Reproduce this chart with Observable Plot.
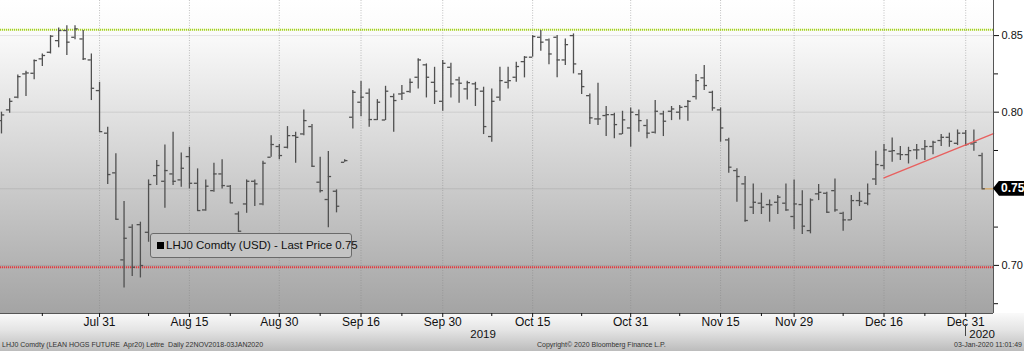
<!DOCTYPE html>
<html><head><meta charset="utf-8">
<script src="https://cdn.jsdelivr.net/npm/d3@7"></script>
<script src="https://cdn.jsdelivr.net/npm/@observablehq/plot@0.6"></script>
<style>
body{margin:0;background:#fff;}
#wrap{position:relative;width:1024px;height:351px;overflow:hidden;font-family:"Liberation Sans",Arial,sans-serif;}
#wrap svg{display:block;}
.legend{position:absolute;left:150px;top:233px;width:194px;height:23px;background:#c4c4c4;border:1px solid #6a6a6a;border-radius:3px;font-size:11.5px;line-height:23px;color:#111;padding-left:6px;white-space:nowrap;}
.legend .sq{display:inline-block;width:7px;height:7px;background:#000;margin-right:2px;}
.foot{position:absolute;top:341px;font-size:7px;color:#333;white-space:pre;}
.badge{position:absolute;height:15px;background:#000;color:#fff;font-weight:bold;font-size:12px;line-height:15px;padding-left:8px;box-sizing:border-box;clip-path:polygon(0 50%,6px 0,100% 0,100% 100%,6px 100%);}
.sep{position:absolute;width:1px;background:#444;}
</style></head>
<body><div id="wrap"></div>
<script>
// ---- data (LHJ0 Comdty daily OHLC, from 15 Jul 2019 to 3 Jan 2020) ----
const open = [0.7945,0.8015,0.8098,0.8250,0.8254,0.8348,0.8391,0.8467,0.8533,0.8489,
0.8478,0.8341,0.8141,0.7863,0.7604,0.7036,0.7249,0.7266,0.7216,0.7586,
0.7549,0.7597,0.7558,0.7710,0.7536,0.7362,0.7488,0.7597,0.7517,0.7336,
0.7401,0.7549,0.7401,0.7706,0.7776,0.7771,0.7847,0.7858,0.7906,0.7543,
0.7430,0.7484,0.7673,0.7967,0.8065,0.8124,0.7952,0.7949,0.8102,0.8119,
0.8135,0.8228,0.8309,0.8195,0.8071,0.8293,0.8211,0.8152,0.8185,0.8137,
0.7841,0.8098,0.8195,0.8228,0.8330,0.8359,0.8489,0.8472,0.8489,0.8341,
0.8500,0.8250,0.8108,0.7956,0.7978,0.7984,0.7858,0.7897,0.7984,0.7913,
0.7869,0.7989,0.8006,0.8000,0.8037,0.8102,0.8224,0.8130,0.8015,0.7819,
0.7619,0.7532,0.7380,0.7406,0.7397,0.7412,0.7406,0.7319,0.7397,0.7227,
0.7467,0.7471,0.7488,0.7340,0.7297,0.7423,0.7406,0.7564,0.7652,0.7745,
0.7728,0.7723,0.7754,0.7760,0.7776,0.7815,0.7836,0.7797,0.7863,0.7793,
0.7717];
const high = [0.8000,0.8087,0.8243,0.8267,0.8341,0.8380,0.8500,0.8550,0.8565,0.8565,
0.8533,0.8380,0.8195,0.7902,0.7728,0.7417,0.7266,0.7282,0.7558,0.7684,
0.7786,0.7869,0.7734,0.7771,0.7630,0.7558,0.7667,0.7689,0.7521,0.7349,
0.7558,0.7558,0.7680,0.7847,0.7789,0.7906,0.7869,0.8015,0.7919,0.7706,
0.7743,0.7493,0.7689,0.8141,0.8200,0.8152,0.8082,0.8169,0.8119,0.8174,
0.8217,0.8348,0.8315,0.8293,0.8337,0.8319,0.8228,0.8202,0.8195,0.8163,
0.8152,0.8293,0.8293,0.8326,0.8363,0.8500,0.8533,0.8478,0.8500,0.8478,
0.8511,0.8272,0.8119,0.8189,0.8037,0.7993,0.8006,0.8028,0.8015,0.7950,
0.8076,0.8006,0.8037,0.8043,0.8076,0.8246,0.8304,0.8137,0.8028,0.7830,
0.7630,0.7580,0.7532,0.7471,0.7427,0.7456,0.7532,0.7558,0.7488,0.7434,
0.7528,0.7477,0.7564,0.7347,0.7456,0.7477,0.7532,0.7745,0.7789,0.7832,
0.7776,0.7771,0.7789,0.7815,0.7810,0.7854,0.7863,0.7884,0.7880,0.7884,
0.7732];
const low = [0.7858,0.7993,0.8087,0.8102,0.8211,0.8298,0.8380,0.8420,0.8370,0.8472,
0.8337,0.8076,0.7869,0.7528,0.7297,0.6853,0.6927,0.6918,0.7151,0.7521,
0.7373,0.7521,0.7510,0.7499,0.7353,0.7353,0.7477,0.7499,0.7406,0.7216,
0.7340,0.7384,0.7390,0.7706,0.7689,0.7760,0.7667,0.7847,0.7641,0.7473,
0.7245,0.7343,0.7673,0.7891,0.7971,0.7902,0.7945,0.7945,0.7869,0.8076,
0.8124,0.8152,0.8093,0.8050,0.8006,0.8093,0.8058,0.8080,0.8037,0.7854,
0.7804,0.8071,0.8152,0.8195,0.8224,0.8359,0.8398,0.8309,0.8224,0.8304,
0.8250,0.8115,0.7919,0.7913,0.7841,0.7826,0.7854,0.7771,0.7869,0.7826,
0.7858,0.7841,0.7945,0.7949,0.7941,0.8080,0.8141,0.8006,0.7804,0.7601,
0.7412,0.7282,0.7332,0.7332,0.7282,0.7332,0.7353,0.7232,0.7201,0.7206,
0.7423,0.7340,0.7347,0.7223,0.7293,0.7384,0.7390,0.7521,0.7623,0.7673,
0.7684,0.7662,0.7689,0.7684,0.7723,0.7776,0.7771,0.7782,0.7776,0.7745,
0.7500];
const close = [0.7982,0.8071,0.8232,0.8256,0.8337,0.8370,0.8496,0.8533,0.8457,0.8544,
0.8348,0.8156,0.7873,0.7593,0.7301,0.7177,0.6988,0.6999,0.7528,0.7652,
0.7619,0.7549,0.7634,0.7536,0.7358,0.7517,0.7597,0.7521,0.7408,0.7223,
0.7549,0.7532,0.7667,0.7789,0.7717,0.7847,0.7836,0.7945,0.7647,0.7488,
0.7580,0.7386,0.7684,0.8130,0.8098,0.7952,0.8065,0.8137,0.8076,0.8124,
0.8195,0.8341,0.8228,0.8137,0.8319,0.8185,0.8189,0.8193,0.8152,0.7906,
0.8071,0.8206,0.8206,0.8298,0.8359,0.8494,0.8457,0.8380,0.8341,0.8441,
0.8315,0.8167,0.7963,0.7956,0.7984,0.7919,0.7950,0.8000,0.7945,0.7863,
0.8006,0.7941,0.8021,0.8032,0.8071,0.8206,0.8174,0.8028,0.7897,0.7641,
0.7580,0.7293,0.7412,0.7380,0.7395,0.7445,0.7362,0.7401,0.7256,0.7427,
0.7477,0.7347,0.7362,0.7297,0.7423,0.7419,0.7467,0.7658,0.7754,0.7749,
0.7723,0.7749,0.7754,0.7776,0.7804,0.7836,0.7810,0.7863,0.7789,0.7804,
0.7500];
const firstDay = "2019-07-15";
const holidays = ["2019-09-02","2019-11-28","2019-12-25","2020-01-01"];
const tickDates = ["2019-07-31","2019-08-15","2019-08-30","2019-09-16","2019-09-30","2019-10-15","2019-10-31","2019-11-15","2019-11-29","2019-12-16","2019-12-31"];
const tickLabels = ["Jul 31","Aug 15","Aug 30","Sep 16","Sep 30","Oct 15","Oct 31","Nov 15","Nov 29","Dec 16","Dec 31"];
const minorDates = ["2019-07-22","2019-08-08","2019-08-22","2019-09-09","2019-09-23","2019-10-08","2019-10-23","2019-11-08","2019-11-22","2019-12-09","2019-12-23"];
const yearLabels = ["2019","2020"];
const yTicks = [0.70,0.75,0.80,0.85];
const yMinor = [0.675,0.725,0.775,0.825];
const greenLevel = 0.8538;
const redLevel = 0.6988;
const trendDates = ["2019-12-16","2019-12-31"];
const trendValues = [0.7571,0.7787];
const legendText = "LHJ0 Comdty (USD) - Last Price 0.75";

// ---- build trading calendar ----
const dates = [];
for (let d = new Date(firstDay + "T00:00:00Z"); dates.length < open.length; d = new Date(d.getTime() + 864e5)) {
  const wd = d.getUTCDay(), s = d.toISOString().slice(0,10);
  if (wd === 0 || wd === 6 || holidays.includes(s)) continue;
  dates.push(s);
}
const idx = s => dates.indexOf(s);
const bars = dates.map((date,i) => ({i, date, open: open[i], high: high[i], low: low[i], close: close[i]}));
const xDomain = [-0.12, 121.4];
const yDomain = [0.6686, 0.8729];
const majorIdx = tickDates.map(idx);
const labelOf = new Map(majorIdx.map((v,k) => [v, tickLabels[k]]));
const minorIdx = minorDates.map(idx);
const yearEnd = idx("2019-12-31");
const years = [{x: (xDomain[0] + yearEnd)/2, t: yearLabels[0]}, {x: (yearEnd + xDomain[1])/2 + 0.3, t: yearLabels[1]}];
const t0 = idx(trendDates[0]), t1 = idx(trendDates[1]);
const slope = (trendValues[1]-trendValues[0])/(t1-t0);
const trend = [{x: t0, y: trendValues[0]}, {x: xDomain[1], y: trendValues[0] + slope*(xDomain[1]-t0)}];
const last = bars[bars.length-1];
const tk = 0.4;
const barColor = "#505050";
const FONT = "'Liberation Sans', Arial, sans-serif";

const chart = Plot.plot({
  width: 1024, height: 351,
  marginLeft: 0, marginRight: 31, marginTop: 0, marginBottom: 38,
  x: {domain: xDomain},
  y: {domain: yDomain},
  style: {fontFamily: FONT, fontSize: "12px", background: "white", color: "#111"},
  marks: [
    Plot.gridY({ticks: yTicks, stroke: "#000", strokeOpacity: 0.09}),
    Plot.gridX({ticks: majorIdx, stroke: "#888", strokeOpacity: 0.5, strokeDasharray: "1,1.5"}),
    Plot.ruleY([greenLevel], {stroke: "#a5d21e", strokeWidth: 2, strokeDasharray: "1.2,0.8"}),
    Plot.ruleY([redLevel], {stroke: "#e23a3e", strokeWidth: 2, strokeDasharray: "1.2,0.8"}),
    Plot.ruleY([last.close], {x1: last.i, x2: xDomain[1], stroke: "#d6ad73", strokeWidth: 1.5}),
    Plot.ruleX(bars, {x: "i", y1: "low", y2: "high", stroke: barColor, strokeWidth: 1.3}),
    Plot.ruleY(bars, {y: "open", x1: d => d.i - tk, x2: "i", stroke: barColor, strokeWidth: 1.3}),
    Plot.ruleY(bars, {y: "close", x1: "i", x2: d => d.i + tk, stroke: barColor, strokeWidth: 1.3}),
    Plot.line(trend, {x: "x", y: "y", stroke: "#e8605f", strokeWidth: 1.4}),
    Plot.ruleX([xDomain[1]], {stroke: "#555", strokeWidth: 1}),
    Plot.ruleY([yDomain[0]], {stroke: "#555", strokeWidth: 1}),
    Plot.axisY({anchor: "right", ticks: yTicks, tickSize: 5, tickPadding: 3, tickFormat: d3.format(".2f"), fontSize: 11, label: null}),
    Plot.axisY({anchor: "right", ticks: yMinor, tickSize: 4, tickFormat: () => "", label: null}),
    Plot.axisX({ticks: majorIdx, tickSize: 4, tickPadding: 0, tickFormat: i => labelOf.get(i), fontSize: 12, label: null}),
    Plot.axisX({ticks: minorIdx, tickSize: 3, tickFormat: () => "", label: null}),
    Plot.text(years, {x: "x", text: "t", frameAnchor: "bottom", dy: 24, fontSize: 11.5, fill: "#111"})
  ]
});

// background gradients
const svg = d3.select(chart);
const sx = chart.scale("x"), sy = chart.scale("y");
const xR = sx.apply(xDomain[1]), yB = sy.apply(yDomain[0]);
const defs = svg.insert("defs", ":first-child");
const g1 = defs.append("linearGradient").attr("id","gPlot").attr("x1",0).attr("y1",0).attr("x2",0).attr("y2",1);
g1.append("stop").attr("offset","0").attr("stop-color","#ffffff");
g1.append("stop").attr("offset","0.1").attr("stop-color","#fbfbfb");
g1.append("stop").attr("offset","1").attr("stop-color","#a4a4a4");
const g2 = defs.append("linearGradient").attr("id","gBot").attr("x1",0).attr("y1",0).attr("x2",0).attr("y2",1);
g2.append("stop").attr("offset","0").attr("stop-color","#fafafa");
g2.append("stop").attr("offset","0.45").attr("stop-color","#e4e4e4");
g2.append("stop").attr("offset","1").attr("stop-color","#bcbcbc");
const bg = svg.insert("g", "defs + *");
bg.append("rect").attr("x",0).attr("y",0).attr("width",xR).attr("height",yB).attr("fill","url(#gPlot)");
bg.append("rect").attr("x",0).attr("y",yB).attr("width",1024).attr("height",351-yB).attr("fill","url(#gBot)");

const wrap = document.getElementById("wrap");
wrap.appendChild(chart);

// year separator and last-price badge positioned with the chart's scales
const sep = document.createElement("div");
sep.className = "sep";
sep.style.left = (sx.apply(yearEnd) - 0.5) + "px";
sep.style.top = (yB + 11) + "px";
sep.style.height = "12px";
wrap.appendChild(sep);
const yv = sy.apply(last.close);
const badge = document.createElement("div");
badge.className = "badge";
badge.style.left = xR + "px";
badge.style.top = (yv - 7.5) + "px";
badge.style.width = (1024 - xR) + "px";
badge.textContent = d3.format(".2f")(last.close);
wrap.appendChild(badge);

const lg = document.createElement("div");
lg.className = "legend";
lg.innerHTML = '<span class="sq"></span>' + legendText;
wrap.appendChild(lg);
const foots = [["LHJ0 Comdty (LEAN HOGS FUTURE  Apr20) Lettre  Daily 22NOV2018-03JAN2020", "left:2px"],
               ["Copyright\u00a9 2020 Bloomberg Finance L.P.", "left:537px"],
               ["03-Jan-2020 11:01:49", "right:2px"]];
for (const [t, pos] of foots) {
  const f = document.createElement("div");
  f.className = "foot"; f.style.cssText = pos; f.textContent = t;
  wrap.appendChild(f);
}
</script></body></html>
